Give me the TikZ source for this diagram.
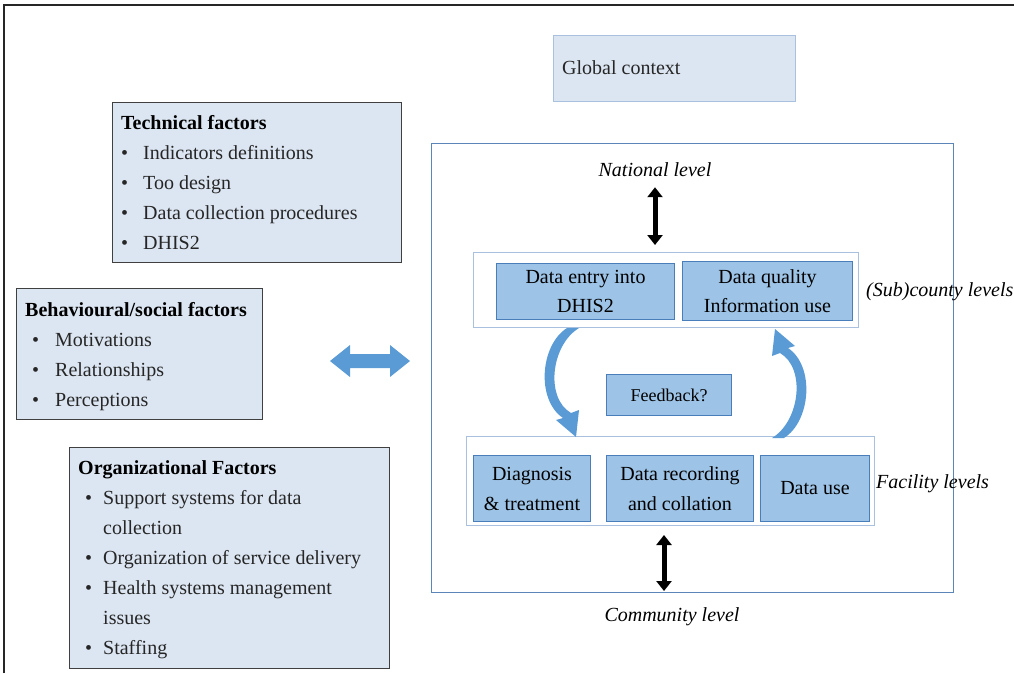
\documentclass[tikz,border=0pt]{standalone}
\usepackage{fontspec}
\setmainfont{Liberation Serif}
\usetikzlibrary{arrows.meta}
\definecolor{lightfill}{HTML}{DCE6F2}
\definecolor{midfill}{HTML}{9DC3E6}
\definecolor{midedge}{HTML}{4A7EBB}
\definecolor{frameblue}{HTML}{5B86BA}
\definecolor{paleedge}{HTML}{A9C1DE}
\definecolor{arrowblue}{HTML}{5B9BD5}
\definecolor{factoredge}{HTML}{404040}
\definecolor{itemgray}{HTML}{262626}
\newcommand{\myblt}[1]{\makebox[#1][l]{\textbullet}}
\begin{document}
\begin{tikzpicture}[x=1pt,y=-1pt,
  factorbox/.style={draw=factoredge, line width=1.2pt, fill=lightfill, anchor=north west, inner sep=0pt},
  listtext/.style={anchor=north west, inner sep=0pt, align=left, text=itemgray, font=\fontsize{20}{30}\selectfont},
  innerbox/.style={draw=midedge, line width=1pt, fill=midfill, anchor=north west, inner sep=0pt, align=center, font=\fontsize{20}{29}\selectfont},
  levelbox/.style={draw=paleedge, line width=1.2pt, fill=white, anchor=north west, inner sep=0pt},
  leveltext/.style={inner sep=0pt, font=\fontsize{20}{24}\selectfont\itshape},
  blkarrow/.style={line width=5pt, {Triangle[width=15pt,length=10pt]}-{Triangle[width=15pt,length=10pt]}},
  curvedarrow/.style={fill=arrowblue, draw=none}
]
\useasboundingbox (0,0) rectangle (1014,673);
% outer frame (top and left edges)
\draw[line width=2pt, black!85] (4,673) -- (4,5) -- (1014,5);

% global context
\node[draw=paleedge, line width=1pt, fill=lightfill, anchor=north west, minimum width=242pt, minimum height=66pt] (glob) at (553,35) {};
\node[anchor=west, inner sep=0pt, font=\fontsize{20}{24}\selectfont, text=itemgray] (globt) at (562,68) {Global context};

% technical factors
\node[factorbox, minimum width=289pt, minimum height=160pt] (tech) at (112,102) {};
\node[listtext] (techt) at (121,115) {\textbf{\color{black}Technical factors}\\
\myblt{22pt}Indicators definitions\\
\myblt{22pt}Too design\\
\myblt{22pt}Data collection procedures\\
\myblt{22pt}DHIS2};

% behavioural factors
\node[factorbox, minimum width=246pt, minimum height=131pt] (beh) at (16,288) {};
\node[listtext] (beht) at (25,302) {\textbf{\color{black}Behavioural/social factors}\\
\hspace*{7pt}\myblt{23pt}Motivations\\
\hspace*{7pt}\myblt{23pt}Relationships\\
\hspace*{7pt}\myblt{23pt}Perceptions};

% organizational factors
\node[factorbox, minimum width=320pt, minimum height=221pt] (org) at (69,447) {};
\node[listtext] (orgt) at (78,460) {\textbf{\color{black}Organizational Factors}\\
\hspace*{7pt}\myblt{18pt}Support systems for data\\
\hspace*{25pt}collection\\
\hspace*{7pt}\myblt{18pt}Organization of service delivery\\
\hspace*{7pt}\myblt{18pt}Health systems management\\
\hspace*{25pt}issues\\
\hspace*{7pt}\myblt{18pt}Staffing};

% blue double arrow
\coordinate (link) at (370,361);
\fill[arrowblue] (330,361) -- (350,345) -- (350,354) -- (390,354) -- (390,345) -- (410,361)
  -- (390,377) -- (390,368) -- (350,368) -- (350,377) -- cycle;

% main frame
\node[draw=frameblue, line width=1.3pt, anchor=north west, minimum width=522pt, minimum height=449pt, inner sep=0pt] (frame) at (431,143) {};

% national level
\node[leveltext] (nat) at (655,170) {National level};

% sub-county level
\node[levelbox, minimum width=385pt, minimum height=75pt] (sub) at (473,252) {};
\node[innerbox, minimum width=178pt, minimum height=56pt] (entry) at (496,263) {Data entry into\\DHIS2};
\node[innerbox, minimum width=170pt, minimum height=59pt] (qual) at (682,261) {Data quality\\Information use};
\node[leveltext, anchor=west] (subt) at (866,292) {(Sub)county levels};

% feedback
\node[innerbox, minimum width=125pt, minimum height=41pt, font=\fontsize{18}{22}\selectfont] (fb) at (606,374) {Feedback?};

% facility level
\node[levelbox, minimum width=408pt, minimum height=89pt] (fac) at (466,436) {};
\node[innerbox, minimum width=117pt, minimum height=66pt, font=\fontsize{20}{30}\selectfont] (diag) at (473,455) {Diagnosis\\\&~treatment};
\node[innerbox, minimum width=147pt, minimum height=66pt, font=\fontsize{20}{30}\selectfont] (rec) at (606,455) {Data recording\\and collation};
\node[innerbox, minimum width=109pt, minimum height=66pt] (use) at (760,455) {Data use};
\node[leveltext, anchor=west] (fact) at (876,484) {Facility levels};

% community level
\node[leveltext] (comm) at (672,617) {Community level};

% black vertical arrows
\draw[blkarrow, shorten <=10pt, shorten >=7pt] (nat.south) -- (nat.south |- sub.north);
\coordinate (facbot) at (664,525);
\coordinate (framebot) at (664,591);
\draw[blkarrow, shorten <=10pt] (facbot) -- (framebot);

% curved block arrows
\fill[curvedarrow] (567,328) .. controls (540,345) and (536,400) .. (563,418)
  -- (556,420) -- (576,437) -- (579,410) -- (571,413)
  .. controls (545,398) and (551,345) .. (579,328) -- cycle;
\begin{scope}[rotate around={180:(675.5,383)}]
\fill[curvedarrow] (567,328) .. controls (540,345) and (536,400) .. (563,418)
  -- (556,420) -- (576,437) -- (579,410) -- (571,413)
  .. controls (545,398) and (551,345) .. (579,328) -- cycle;
\end{scope}
\end{tikzpicture}
\end{document}
